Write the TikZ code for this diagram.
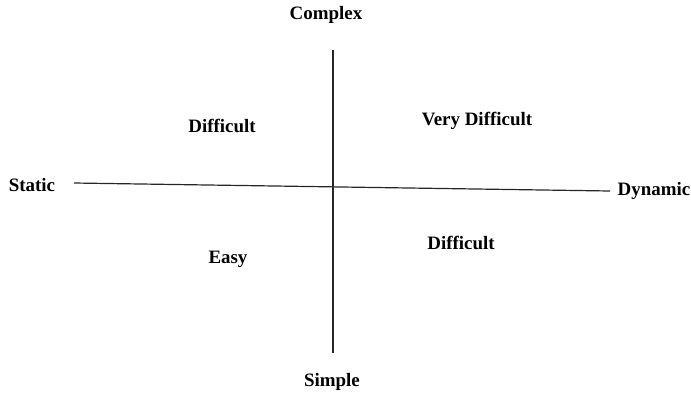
\documentclass[tikz,border=0pt]{standalone}
\usepackage{fontspec}
\setmainfont{Liberation Serif}
\usetikzlibrary{positioning}

\begin{document}
\begin{tikzpicture}[x=1bp, y=-1bp, font=\fontsize{19}{22}\selectfont\bfseries,
	lbl/.style={inner sep=1pt},
	ax/.style={line width=1.2pt, black!85}]
	\useasboundingbox (0,0) rectangle (691,396);
	\node[lbl] (cx) at (326,15)  {Complex};
	\node[lbl] (sp) at (332,382) {Simple};
	\node[lbl] (st) at (32,185)  {Static};
	\node[lbl] (dy) at (654,191) {Dynamic};
	\coordinate (top) at (333,50);
	\coordinate (bot) at (333,353);
	\coordinate (lft) at (74,183);
	\coordinate (rgt) at (610,191);
	\node[lbl] (d1) at (222,126) {Difficult};
	\node[lbl] (vd) at (477,121) {Very Difficult};
	\node[lbl] (ez) at (228,259) {Easy};
	\node[lbl] (d2) at (461,243) {Difficult};
	\draw[ax] (top) -- (bot);
	\draw[ax] (lft) -- (rgt);
\end{tikzpicture}
\end{document}
